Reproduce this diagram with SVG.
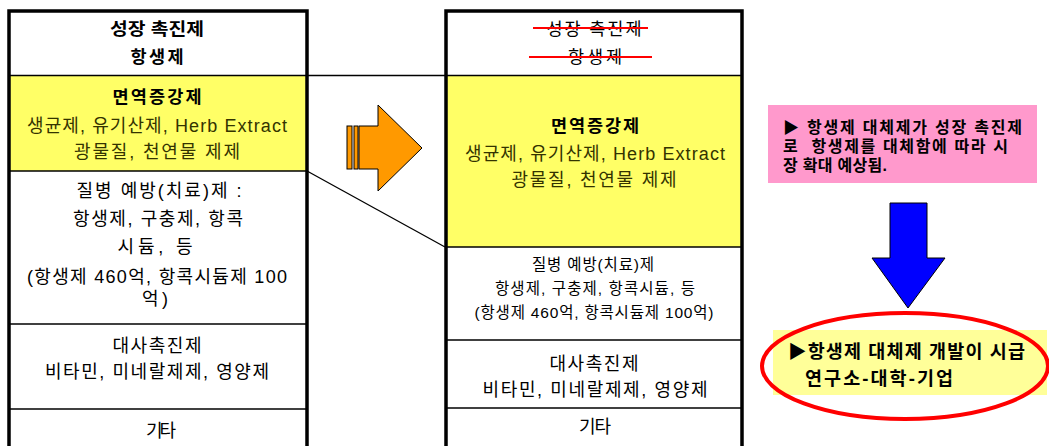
<svg xmlns="http://www.w3.org/2000/svg" width="1049" height="446" viewBox="0 0 1049 446">
<style>
text{font-family:"Liberation Sans","Noto Sans CJK KR",sans-serif;text-anchor:middle;fill:#000}
.b{font-weight:bold}
.h{font-size:17.5px}
.m{font-size:18px}
.s{font-size:15.5px}
.o{fill:#333300;font-size:18px}
.div{stroke:#000;stroke-width:1.5}
.frame{fill:none;stroke:#000;stroke-width:3.5}
.strike{stroke:#ff0000;stroke-width:2}
.cl{stroke:#000;stroke-width:1.3;fill:none}
.lt{text-anchor:start;font-weight:bold}
</style>
<rect width="1049" height="446" fill="#fff"/>

<g id="left-box">
  <rect x="9" y="76" width="298" height="95" fill="#ffff66"/>
  <line class="div" x1="9" y1="75.5" x2="307" y2="75.5"/>
  <line class="div" x1="9" y1="171" x2="307" y2="171"/>
  <line class="div" x1="9" y1="324" x2="307" y2="324"/>
  <line class="div" x1="9" y1="409" x2="307" y2="409"/>
  <path class="frame" d="M9,460 V11 H307 V460"/>
  <g id="l-growth"><text class="b h" x="157" y="35" textLength="94" lengthAdjust="spacingAndGlyphs">성장 촉진제</text><text class="b h" x="157" y="63" textLength="53">항생제</text></g>
  <g id="l-immune"><text class="b h" x="157" y="103" textLength="89">면역증강제</text>
    <text class="o" x="157" y="132" textLength="260">생균제, 유기산제, Herb Extract</text>
    <text class="o" x="157" y="158" textLength="166">광물질, 천연물 제제</text></g>
  <g id="l-disease"><text class="m" x="159" y="197" textLength="165">질병 예방(치료)제 :</text>
    <text class="m" x="158" y="225" textLength="170">항생제, 구충제, 항콕</text>
    <text class="m" x="155" y="253" textLength="75">시듐, 등</text>
    <text class="m" x="157" y="283" textLength="260">(항생제 460억, 항콕시듐제 100</text>
    <text class="m" x="155" y="305" textLength="26">억)</text></g>
  <g id="l-metab"><text class="m" x="157" y="352" textLength="89">대사촉진제</text><text class="m" x="157" y="378" textLength="224">비타민, 미네랄제제, 영양제</text></g>
  <g id="l-etc"><text class="m" x="161" y="437" textLength="30">기타</text></g>
</g>

<g id="connectors">
  <line class="cl" x1="307" y1="75.5" x2="445" y2="75.5"/>
  <line class="cl" x1="307" y1="171" x2="445" y2="247"/>
</g>

<g id="right-box">
  <rect x="446" y="76" width="296" height="171" fill="#ffff66"/>
  <line class="div" x1="446" y1="75.5" x2="742" y2="75.5"/>
  <line class="div" x1="446" y1="247" x2="742" y2="247"/>
  <line class="div" x1="446" y1="340" x2="742" y2="340"/>
  <line class="div" x1="446" y1="408" x2="742" y2="408"/>
  <path class="frame" d="M446,460 V11 H742 V460"/>
  <g id="r-growth"><text class="h" x="594" y="35" textLength="95">성장 촉진제</text><text class="h" x="595" y="63" textLength="54">항생제</text>
    <line class="strike" x1="533" y1="28" x2="648" y2="28"/>
    <line class="strike" x1="529" y1="57" x2="652" y2="57"/></g>
  <g id="r-immune"><text class="b h" x="595" y="132" textLength="88">면역증강제</text>
    <text class="o" x="595" y="160" textLength="260">생균제, 유기산제, Herb Extract</text>
    <text class="o" x="594" y="186" textLength="165">광물질, 천연물 제제</text></g>
  <g id="r-disease"><text class="s" x="593" y="270" textLength="122">질병 예방(치료)제</text>
    <text class="s" x="595" y="294" textLength="200">항생제, 구충제, 항콕시듐, 등</text>
    <text class="s" x="594" y="318" textLength="239">(항생제 460억, 항콕시듐제 100억)</text></g>
  <g id="r-metab"><text class="m" x="594" y="370" textLength="89">대사촉진제</text><text class="m" x="595" y="396" textLength="225">비타민, 미네랄제제, 영양제</text></g>
  <g id="r-etc"><text class="m" x="595" y="433" textLength="32">기타</text></g>
</g>

<g id="orange-arrow" fill="#ff9900" stroke="#000" stroke-width="1">
  <rect x="347" y="126" width="5" height="43"/>
  <rect x="354" y="126" width="4" height="43"/>
  <path d="M359,126 H378 V105 L422,148 L378,191 V169 H359 Z"/>
</g>

<g id="pink-note">
  <rect x="768" y="105" width="269" height="78" fill="#ff99cc"/>
  <text class="lt" x="783" y="133" font-size="16" textLength="239">▶ 항생제 대체제가 성장 촉진제</text>
  <text class="lt" x="783" y="152" font-size="16" textLength="225" xml:space="preserve">로  항생제를 대체함에 따라 시</text>
  <text class="lt" x="783" y="171" font-size="16" textLength="104">장 확대 예상됨.</text>
</g>

<g id="blue-arrow">
  <path d="M890,203 H927 V258 H945 L908,308 L872,258 H890 Z" fill="#0000ff" stroke="#000" stroke-width="1"/>
</g>

<g id="conclusion">
  <rect x="773" y="330" width="274" height="65" fill="#ffff99"/>
  <text class="lt" x="788" y="358" font-size="18.5" textLength="237">▶항생제 대체제 개발이 시급</text>
  <text class="lt" x="805" y="385" font-size="18.5" textLength="148">연구소-대학-기업</text>
  <ellipse cx="905" cy="366" rx="143" ry="53" fill="none" stroke="#ff0000" stroke-width="4"/>
</g>
</svg>
